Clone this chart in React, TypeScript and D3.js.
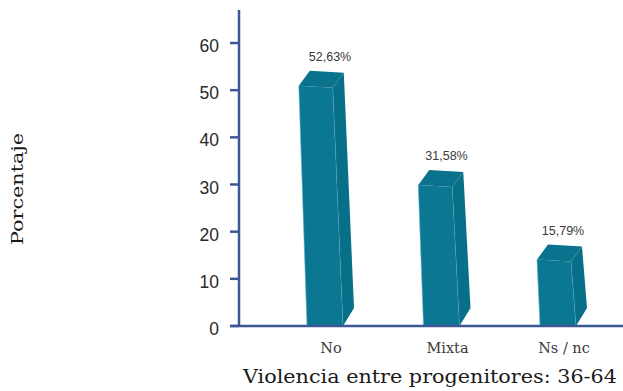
import React from "react";
import * as d3 from "d3";

// Violencia entre progenitores (grupo 36-64): porcentaje por categoría
const categories = ["No", "Mixta", "Ns / nc"];
const values = [52.63, 31.58, 15.79];
const valueLabels = ["52,63%", "31,58%", "15,79%"];
const yTicks = [0, 10, 20, 30, 40, 50, 60];

const W = 623;
const H = 391;

const AXIS = "#3d5795";
const FRONT = "#0b7792";
const SIDE = "#076f88";
const TOP = "#0a728c";
const EDGE = "#5fb2c6";

export default function App() {
  const baseY = 326;
  const axisX = 239;

  const y = d3.scaleLinear().domain([0, 67]).range([baseY, 10]);
  const x = d3.scalePoint<string>().domain(categories).range([325, 558]);

  // prism geometry
  const halfW = 18;
  const topW = 34;
  const depthX = 11;
  const depthY = -15;
  const leanPerPx = -0.03;

  const bars = categories.map((c, i) => {
    const cx = x(c) as number;
    const v = values[i];
    const yTop = y(v) + 8;
    const h = baseY - yTop;
    const lean = leanPerPx * h;
    const bl: [number, number] = [cx - halfW, baseY];
    const br: [number, number] = [cx + halfW, baseY];
    const tl: [number, number] = [cx - halfW + lean - 1, yTop];
    const tr: [number, number] = [tl[0] + topW, yTop + 2];
    const off = (p: [number, number]): [number, number] => [p[0] + depthX, p[1] + depthY];
    const pts = (arr: [number, number][]) => arr.map((p) => p.join(",")).join(" ");
    return {
      c,
      cx,
      v,
      label: valueLabels[i],
      front: pts([bl, tl, tr, br]),
      side: pts([br, tr, off(tr), [br[0] + depthX, br[1] + depthY - 3]]),
      top: pts([tl, off(tl), off(tr), tr]),
      edgeLeft: [tl, bl],
      edgeMid: [tr, br],
      labelY: y(v) - 17,
    };
  });

  return (
    <svg width={W} height={H} style={{ position: "absolute", left: 0, top: 0 }}>
      <rect width={W} height={H} fill="#ffffff" />

      {/* bars */}
      {bars.map((b) => (
        <g key={b.c}>
          <polygon points={b.side} fill={SIDE} />
          <polygon points={b.front} fill={FRONT} />
          <polygon points={b.top} fill={TOP} />
          <line
            x1={b.edgeLeft[0][0]}
            y1={b.edgeLeft[0][1]}
            x2={b.edgeLeft[1][0]}
            y2={b.edgeLeft[1][1]}
            stroke={EDGE}
            strokeOpacity={0.6}
            strokeWidth={1}
          />
          <line
            x1={b.edgeMid[0][0]}
            y1={b.edgeMid[0][1]}
            x2={b.edgeMid[1][0]}
            y2={b.edgeMid[1][1]}
            stroke={EDGE}
            strokeOpacity={0.35}
            strokeWidth={1}
          />
          <text
            x={b.cx + 5}
            y={b.labelY}
            textAnchor="middle"
            fontFamily="'Liberation Sans', Arial, sans-serif"
            fontSize={12.5}
            fill="#3a3a3a"
          >
            {b.label}
          </text>
          <text
            x={b.cx + 6}
            y={353}
            textAnchor="middle"
            fontFamily="'DejaVu Serif', serif"
            fontSize={14.5}
            fill="#3a3a3a"
          >
            {b.c}
          </text>
        </g>
      ))}

      {/* y axis */}
      <line x1={axisX} y1={y(67)} x2={axisX} y2={baseY} stroke={AXIS} strokeWidth={2.5} />
      {yTicks.map((t) => (
        <g key={t}>
          <line x1={230} x2={axisX} y1={y(t)} y2={y(t)} stroke={AXIS} strokeWidth={2.5} />
          <text
            x={219}
            y={y(t) + 3}
            textAnchor="end"
            dominantBaseline="central"
            fontFamily="'Liberation Sans', Arial, sans-serif"
            fontSize={17.5}
            fill="#2a2a2a"
          >
            {t}
          </text>
        </g>
      ))}

      {/* x axis */}
      <line x1={230} x2={W} y1={baseY} y2={baseY} stroke={AXIS} strokeWidth={2.5} />

      {/* axis titles */}
      <text
        x={243}
        y={383}
        fontFamily="'DejaVu Serif', serif"
        fontSize={18}
        textLength={374}
        lengthAdjust="spacingAndGlyphs"
        fill="#1a1a1a"
      >
        Violencia entre progenitores: 36-64
      </text>
      <text
        transform="translate(23,189) rotate(-90)"
        textAnchor="middle"
        fontFamily="'DejaVu Serif', serif"
        fontSize={17}
        textLength={112}
        lengthAdjust="spacingAndGlyphs"
        fill="#1a1a1a"
      >
        Porcentaje
      </text>
    </svg>
  );
}
